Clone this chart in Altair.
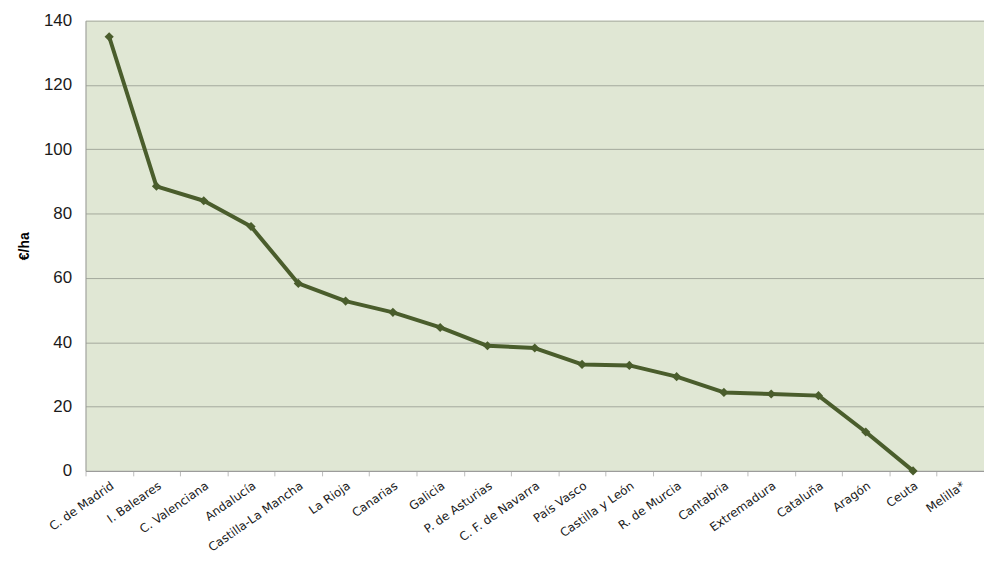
import altair as alt
import pandas as pd

regions = ["C. de Madrid", "I. Baleares", "C. Valenciana", "Andalucía", "Castilla-La Mancha",
           "La Rioja", "Canarias", "Galicia", "P. de Asturias", "C. F. de Navarra",
           "País Vasco", "Castilla y León", "R. de Murcia", "Cantabria", "Extremadura",
           "Cataluña", "Aragón", "Ceuta", "Melilla*"]
values = [135, 88.5, 84, 76, 58.3, 52.8, 49.3, 44.6, 38.9, 38.2,
          33.1, 32.8, 29.3, 24.4, 23.9, 23.4, 12.1, 0, None]

df = pd.DataFrame({"region": regions, "value": values})

x = alt.X("region:N", sort=regions, bandPosition=0.5,
          scale=alt.Scale(type="band", paddingInner=0, paddingOuter=0),
          axis=alt.Axis(title=None, labelAngle=-35, labelAlign="right", labelBaseline="top",
                        labelFont="DejaVu Sans", labelFontSize=12, labelColor="#1a1a1a",
                        labelPadding=4, tickBand="extent", tickColor="#bbbbbb", tickSize=5,
                        domainColor="#999999", labelOverlap=False, grid=False))
y = alt.Y("value:Q", scale=alt.Scale(domain=[0, 140], nice=False),
          axis=alt.Axis(title="€/ha", titleFont="Liberation Sans", titleFontSize=14,
                        titleFontWeight="bold", titleColor="#000", titlePadding=12,
                        values=list(range(0, 141, 20)), labelFont="Liberation Sans",
                        labelFontSize=17, labelColor="#1a1a1a", labelPadding=14, ticks=False,
                        domainColor="#999999", gridColor="#a3a89c", gridWidth=1))

base = alt.Chart(df).encode(x=x, y=y)
line = base.mark_line(color="#4a5d2c", strokeWidth=4, strokeJoin="round")
pts = base.mark_point(shape="diamond", filled=True, size=85, color="#4a5d2c", opacity=1)

chart = (line + pts).properties(
    width=904, height=453,
    autosize=alt.AutoSizeParams(type="none"),
    padding={"left": 78, "top": 11, "right": 0, "bottom": 100},
    background="white",
).configure_view(fill="#e0e7d4", stroke=None)

chart.save("out.html", embed_options={"renderer": "svg", "actions": False})
